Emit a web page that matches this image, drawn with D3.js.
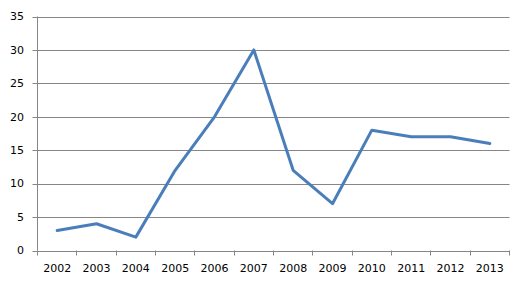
<!DOCTYPE html>
<html>
<head>
<meta charset="utf-8">
<script src="https://cdn.jsdelivr.net/npm/d3@7"></script>
<style>
  body { margin: 0; background: #fff; }
  svg { display: block; }
</style>
</head>
<body>
<svg id="chart"></svg>
<script>
const years = ["2002", "2003", "2004", "2005", "2006", "2007", "2008", "2009", "2010", "2011", "2012", "2013"];
const values = [3, 4, 2, 12, 20, 30, 12, 7, 18, 17, 17, 16];
const yTicks = [0, 5, 10, 15, 20, 25, 30, 35];

const width = 526;
const height = 286;
const plotLeft = 37.5, plotRight = 509.5, plotTop = 16.5, plotBottom = 250.5;

const svg = d3.select("#chart").attr("width", width).attr("height", height);

const x = d3.scaleBand().domain(years).range([plotLeft, plotRight]);
const y = d3.scaleLinear().domain([0, 35]).range([plotBottom, plotTop]);

const font = "DejaVu Sans, Verdana, sans-serif";

// gridlines
svg.append("g")
  .selectAll("line")
  .data(yTicks)
  .join("line")
  .attr("x1", plotLeft - 5)
  .attr("x2", plotRight)
  .attr("y1", d => Math.round(y(d)) + 0.5)
  .attr("y2", d => Math.round(y(d)) + 0.5)
  .attr("stroke", "#868686")
  .attr("stroke-width", 1);

// y axis line
svg.append("line")
  .attr("x1", plotLeft).attr("x2", plotLeft)
  .attr("y1", plotTop).attr("y2", plotBottom)
  .attr("stroke", "#868686");

// y labels
svg.append("g")
  .selectAll("text")
  .data(yTicks)
  .join("text")
  .attr("x", 24)
  .attr("y", d => y(d))
  .attr("dy", "0.35em")
  .attr("text-anchor", "end")
  .attr("font-family", font)
  .attr("font-size", 11)
  .attr("fill", "#000")
  .text(d => d);

// x tick marks
const tickPos = years.map(d => x(d)).concat([plotRight]);
svg.append("g")
  .selectAll("line")
  .data(tickPos)
  .join("line")
  .attr("x1", d => Math.round(d - 0.5) + 0.5)
  .attr("x2", d => Math.round(d - 0.5) + 0.5)
  .attr("y1", plotBottom)
  .attr("y2", plotBottom + 5)
  .attr("stroke", "#868686");

// x labels
svg.append("g")
  .selectAll("text")
  .data(years)
  .join("text")
  .attr("x", d => x(d) + x.bandwidth() / 2)
  .attr("y", 268)
  .attr("dy", "0.35em")
  .attr("text-anchor", "middle")
  .attr("font-family", font)
  .attr("font-size", 11)
  .attr("fill", "#000")
  .text(d => d);

// series line
const line = d3.line()
  .x((d, i) => x(years[i]) + x.bandwidth() / 2)
  .y(d => y(d));

svg.append("path")
  .datum(values)
  .attr("d", line)
  .attr("fill", "none")
  .attr("stroke", "#4a7ebb")
  .attr("stroke-width", 3)
  .attr("stroke-linejoin", "round")
  .attr("stroke-linecap", "round");
</script>
</body>
</html>
